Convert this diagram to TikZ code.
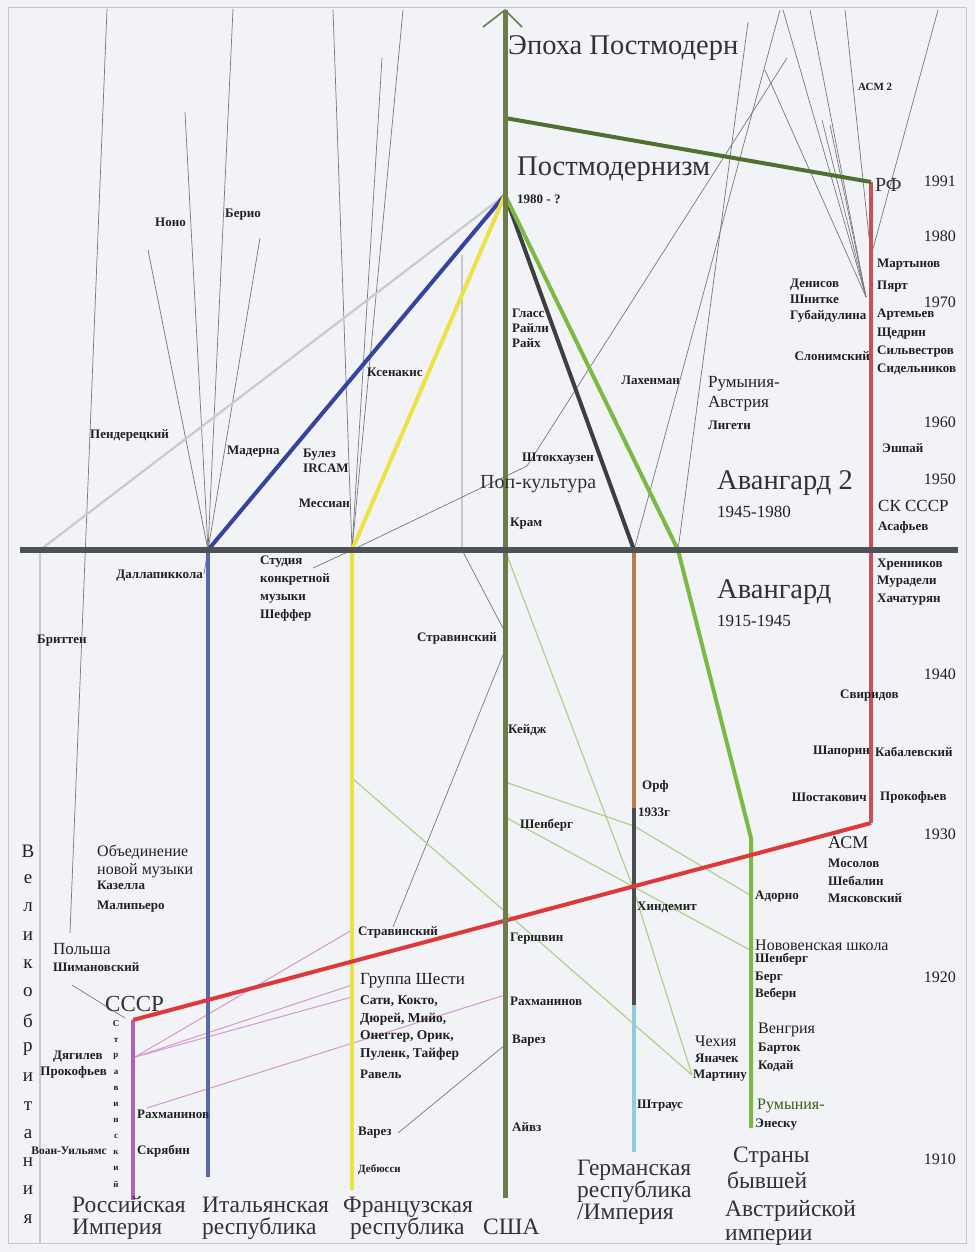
\documentclass[tikz,border=0pt]{standalone}
\usepackage{fontspec}
\setmainfont{Liberation Serif}
\usetikzlibrary{arrows.meta}

\definecolor{paper}{RGB}{242,243,246}
\definecolor{framec}{RGB}{196,198,202}
\definecolor{ink}{RGB}{32,32,34}
\definecolor{inkgray}{RGB}{50,50,52}
\definecolor{axisc}{RGB}{78,82,86}
\definecolor{usac}{RGB}{108,124,74}
\definecolor{pmgreen}{RGB}{80,112,48}
\definecolor{sovred}{RGB}{222,56,58}
\definecolor{rfred}{RGB}{200,80,86}
\definecolor{rusviolet}{RGB}{176,96,182}
\definecolor{violetthin}{RGB}{214,150,206}
\definecolor{itblue}{RGB}{52,68,160}
\definecolor{itblue2}{RGB}{88,102,170}
\definecolor{fryellow}{RGB}{234,226,70}
\definecolor{darkline}{RGB}{60,62,64}
\definecolor{atgreen}{RGB}{124,184,68}
\definecolor{debrown}{RGB}{184,122,80}
\definecolor{degray}{RGB}{74,76,78}
\definecolor{deblue}{RGB}{144,204,224}
\definecolor{gbgray}{RGB}{200,202,204}
\definecolor{thingray}{RGB}{118,120,122}
\definecolor{lightgreen}{RGB}{174,208,138}
\definecolor{romgreen}{RGB}{50,90,30}

\begin{document}
\begin{tikzpicture}[x=1pt,y=-1pt,
  gline/.style={draw=thingray,line width=0.7pt},
  lgline/.style={draw=lightgreen,line width=1.2pt},
  vline/.style={draw=violetthin,line width=1pt},
  heavy/.style={line width=4pt},
  lbl/.style={font=\fontsize{13}{15}\selectfont\bfseries,text=ink,inner sep=0pt,anchor=west,align=left},
  lblR/.style={lbl,anchor=east,align=right},
  midlbl/.style={font=\fontsize{16}{18}\selectfont,text=ink,inner sep=0pt,anchor=west,align=left},
  bigt/.style={font=\fontsize{28.5}{30}\selectfont,text=inkgray,inner sep=0pt,anchor=base west},
  subt/.style={font=\fontsize{17}{19}\selectfont,text=ink,inner sep=0pt,anchor=base west},
  yr/.style={font=\fontsize{16}{18}\selectfont,text=ink,inner sep=0pt,anchor=east},
  ctry/.style={font=\fontsize{23.5}{20}\selectfont,text=inkgray,inner sep=0pt,anchor=base west},
  vletter/.style={font=\fontsize{19}{20}\selectfont,text=ink,inner sep=0pt},
  tletter/.style={font=\fontsize{9}{10}\selectfont\bfseries,text=ink,inner sep=0pt}]

% page and frame
\fill[paper] (0,0) rectangle (975,1252);
\draw[framec,line width=1pt] (8,8) rectangle (966,1243);
\useasboundingbox (0,0) rectangle (975,1252);

% ---- junction points ----
\coordinate (usaTop) at (505,10);
\coordinate (usaBot) at (505,1198);
\coordinate (pmApex) at (505,195);
\coordinate (pmL) at (505,118);
\coordinate (axL) at (20,550);
\coordinate (axR) at (958,550);
\coordinate (itN) at (208,550);
\coordinate (itB) at (208,1177);
\coordinate (frN) at (352,550);
\coordinate (frB) at (352,1190);
\coordinate (deN) at (634,550);
\coordinate (deOrff) at (634,808);
\coordinate (deW) at (634,1005);
\coordinate (deB) at (634,1152);
\coordinate (atN) at (678,550);
\coordinate (atK) at (751,838);
\coordinate (atB) at (751,1128);
\coordinate (gbN) at (40,550);
\coordinate (gbB) at (40,1243);
\coordinate (ruN) at (133,1020);
\coordinate (ruB) at (133,1200);
\coordinate (suK) at (871,823);
\coordinate (rfN) at (871,182);

% thin grey influence lines
\coordinate (gIt1) at (233,9);
\coordinate (gIt2) at (185,112);
\coordinate (gIt3) at (148,250);
\coordinate (gIt4) at (260,238);
\coordinate (dallE) at (204,574);
\coordinate (polT) at (107,9);
\coordinate (polB) at (70,933);
\coordinate (gFr1) at (333,10);
\coordinate (gFr2) at (403,10);
\coordinate (gFr3) at (382,58);
\coordinate (stkP) at (527,466);
\coordinate (stkT) at (787,58);
\coordinate (studE) at (313,568);
\coordinate (strT) at (462,255);
\coordinate (strA) at (462,550);
\coordinate (strUS) at (505,632);
\coordinate (strFr) at (393,927);
\coordinate (strUSb) at (505,650);
\coordinate (varFr) at (398,1133);
\coordinate (varUS) at (505,1045);
\coordinate (lachT) at (780,10);
\coordinate (ligT) at (748,22);
\coordinate (denN) at (866,297);
\coordinate (den1) at (783,10);
\coordinate (den2) at (810,10);
\coordinate (den3) at (765,70);
\coordinate (den4) at (822,120);
\coordinate (den5) at (830,125);
\coordinate (marN) at (871,256);
\coordinate (mar1) at (845,10);
\coordinate (mar2) at (938,10);
\coordinate (polR1) at (72,985);
\coordinate (polR2) at (125,1018);

\draw[gline] (gIt1) -- (itN);
\draw[gline] (gIt2) -- (itN);
\draw[gline] (gIt3) -- (itN);
\draw[gline] (gIt4) -- (itN);
\draw[gline] (dallE) -- (itN);
\draw[gline] (polT) -- (polB);
\draw[gline] (gFr1) -- (frN);
\draw[gline] (gFr2) -- (frN);
\draw[gline] (gFr3) -- (frN);
\draw[gline] (frN) -- (stkP) -- (stkT);
\draw[gline] (studE) -- (frN);
\draw[gline] (strT) -- (strA) -- (strUS);
\draw[gline] (strFr) -- (strUSb);
\draw[gline] (varFr) -- (varUS);
\draw[gline] (lachT) -- (deN);
\draw[gline] (ligT) -- (atN);
\draw[gline] (den1) -- (denN);
\draw[gline] (den2) -- (denN);
\draw[gline] (den3) -- (denN);
\draw[gline] (den4) -- (denN);
\draw[gline] (den5) -- (denN);
\draw[gline] (mar1) -- (marN);
\draw[gline] (mar2) -- (marN);
\draw[gline] (polR1) -- (polR2);

% light green emigration lines
\coordinate (lgA0) at (505,550);
\coordinate (lgA1) at (632,885);
\coordinate (lgA2) at (692,1075);
\coordinate (lgB0) at (505,782);
\coordinate (lgB1) at (634,826);
\coordinate (lgB2) at (750,895);
\coordinate (lgC0) at (505,817);
\coordinate (lgC1) at (750,950);
\coordinate (lgD0) at (352,778);
\draw[lgline] (lgA0) -- (lgA1) -- (lgA2);
\draw[lgline] (lgB0) -- (lgB1) -- (lgB2);
\draw[lgline] (lgC0) -- (lgC1);
\draw[lgline] (lgD0) -- (lgA2);

% violet lines out of the Russian Empire
\coordinate (ruDi) at (135,1057);
\coordinate (ruRa) at (147,1108);
\coordinate (frStr) at (352,930);
\coordinate (frDi1) at (352,985);
\coordinate (frDi2) at (352,997);
\coordinate (usRa) at (505,995);
\draw[vline] (ruDi) -- (frStr);
\draw[vline] (ruDi) -- (frDi1);
\draw[vline] (ruDi) -- (frDi2);
\draw[vline] (ruRa) -- (usRa);

% Great Britain
\draw[gbgray,line width=2.2pt] (gbN) -- (pmApex);
\draw[gbgray,line width=2pt] (gbN) -- (gbB);

% national lines
\draw[itblue,heavy] (itN) -- (pmApex);
\draw[itblue2,heavy] (itN) -- (itB);
\draw[fryellow,heavy] (frN) -- (pmApex);
\draw[fryellow,heavy] (frN) -- (frB);
\draw[darkline,heavy] (deN) -- (pmApex);
\draw[debrown,heavy] (deN) -- (deOrff);
\draw[degray,heavy] (deOrff) -- (deW);
\draw[deblue,heavy] (deW) -- (deB);
\draw[atgreen,heavy,line join=round] (pmApex) -- (atN) -- (atK) -- (atB);
\draw[rusviolet,heavy] (ruN) -- (ruB);
\draw[sovred,heavy] (ruN) -- (suK);
\draw[rfred,heavy] (suK) -- (rfN);
\draw[pmgreen,heavy] (pmL) -- (rfN);

% USA axis with open arrow head
\draw[usac,line width=5pt] (usaBot) -- (usaTop);
\draw[usac,line width=1.6pt] ([shift={(-22,17)}]usaTop) -- (usaTop) -- ([shift={(17,17)}]usaTop);

% 1945 boundary
\draw[axisc,line width=6pt] (axL) -- (axR);

% ---- epochs ----
\node[bigt] (epoch) at (508,55) {Эпоха Постмодерн};
\node[bigt] (pmism) at (517,176) {Постмодернизм};
\node[lbl] (pmyear) at (517,199) {1980 - ?};
\node[font=\fontsize{20}{22}\selectfont,text=inkgray,inner sep=0pt,anchor=base west] (pop) at (480,488) {Поп-культура};
\node[bigt] (av2) at (717,489) {Авангард 2};
\node[subt] (av2y) at (717,517) {1945-1980};
\node[bigt] (av1) at (717,598) {Авангард};
\node[subt] (av1y) at (717,626) {1915-1945};

% ---- years ----
\node[yr] (y1991) at (956,181) {1991};
\node[yr] (y1980) at (956,236) {1980};
\node[yr] (y1970) at (956,302) {1970};
\node[yr] (y1960) at (956,422) {1960};
\node[yr] (y1950) at (956,479) {1950};
\node[yr] (y1940) at (956,674) {1940};
\node[yr] (y1930) at (956,834) {1930};
\node[yr] (y1920) at (956,977) {1920};
\node[yr] (y1910) at (956,1159) {1910};

% ---- upper left ----
\node[lbl] (nono) at (155,222) {Ноно};
\node[lbl] (berio) at (225,215) {Берио};
\node[lbl] (pend) at (90,435) {Пендерецкий};
\node[lbl] (mad) at (227,452) {Мадерна};
\node[lbl] (boulez) at (303,461) {Булез\\IRCAM};
\node[lblR] (mess) at (350,503) {Мессиан};
\node[lbl] (xen) at (367,372) {Ксенакис};
\node[lblR] (dall) at (203,576) {Даллапиккола};
\node[lbl] (britten) at (37,641) {Бриттен};
\node[lbl,font=\fontsize{13}{18}\selectfont\bfseries] (studio) at (260,589) {Студия\\конкретной\\музыки\\Шеффер};

% ---- USA ----
\node[lbl] (glass) at (512,328) {Гласс\\Райли\\Райх};
\node[lbl] (stock) at (522,459) {Штокхаузен};
\node[lbl] (crumb) at (510,524) {Крам};
\node[lblR] (strUSl) at (497,638) {Стравинский};
\node[lbl] (cage) at (508,730) {Кейдж};
\node[lbl] (schUS) at (520,825) {Шенберг};
\node[lbl] (gersh) at (510,939) {Гершвин};
\node[lbl] (rachUS) at (510,1001) {Рахманинов};
\node[lbl] (varUSl) at (512,1041) {Варез};
\node[lbl] (ives) at (512,1127) {Айвз};

% ---- upper right ----
\node[lblR] (lachen) at (680,380) {Лахенман};
\node[midlbl,font=\fontsize{17}{20}\selectfont] (romat) at (708,394) {Румыния-\\Австрия};
\node[lbl] (ligeti) at (708,425) {Лигети};
\node[lbl,font=\fontsize{11}{12}\selectfont\bfseries] (asm2) at (858,87) {АСМ 2};
\node[font=\fontsize{20}{22}\selectfont,text=inkgray,inner sep=0pt,anchor=base west] (rf) at (875,192) {РФ};
\node[lbl] (mart) at (877,265) {Мартынов};
\node[lbl] (part) at (877,287) {Пярт};
\node[lbl,font=\fontsize{13}{18.3}\selectfont\bfseries] (artem) at (877,342) {Артемьев\\Щедрин\\Сильвестров\\Сидельников};
\node[lbl,font=\fontsize{13}{16}\selectfont\bfseries] (denis) at (790,301) {Денисов\\Шнитке\\Губайдулина};
\node[lblR] (slon) at (870,356) {Слонимский};
\node[lbl] (eshpai) at (882,448) {Эшпай};
\node[midlbl,font=\fontsize{17}{19}\selectfont] (skussr) at (878,506) {СК СССР};
\node[lbl] (asaf) at (878,527) {Асафьев};
\node[lbl,font=\fontsize{13}{17.5}\selectfont\bfseries] (khren) at (877,582) {Хренников\\Мурадели\\Хачатурян};
\node[lbl] (svir) at (840,696) {Свиридов};
\node[lblR] (shap) at (870,752) {Шапорин};
\node[lbl] (kabal) at (875,752) {Кабалевский};
\node[lblR] (shost) at (867,797) {Шостакович};
\node[lbl] (prokR) at (880,797) {Прокофьев};
\node[midlbl,font=\fontsize{18}{20}\selectfont] (asm) at (828,843) {АСМ};
\node[lbl,font=\fontsize{13}{17.5}\selectfont\bfseries] (mosol) at (828,881) {Мосолов\\Шебалин\\Мясковский};

% ---- Germany / Austria ----
\node[lbl] (orff) at (642,786) {Орф};
\node[lbl] (y1933) at (638,812) {1933г};
\node[lbl] (hind) at (637,907) {Хиндемит};
\node[lbl] (strauss) at (637,1106) {Штраус};
\node[midlbl] (czech) at (695,1041) {Чехия};
\node[lbl] (janac) at (695,1058) {Яначек};
\node[lbl] (martinu) at (693,1076) {Мартину};
\node[lbl] (adorno) at (755,897) {Адорно};
\node[midlbl] (nvs) at (755,945) {Нововенская школа};
\node[lbl,font=\fontsize{13}{17.5}\selectfont\bfseries] (nvsn) at (755,977) {Шенберг\\Берг\\Веберн};
\node[midlbl] (hung) at (758,1030) {Венгрия};
\node[lbl,font=\fontsize{13}{18}\selectfont\bfseries] (bartok) at (758,1057) {Барток\\Кодай};
\node[midlbl,text=romgreen] (rom) at (757,1106) {Румыния-};
\node[lbl] (enescu) at (755,1125) {Энеску};

% ---- France ----
\node[lbl] (strFrl) at (358,932) {Стравинский};
\node[midlbl,font=\fontsize{17}{19}\selectfont] (six) at (360,981) {Группа Шести};
\node[lbl,font=\fontsize{13.5}{17.7}\selectfont\bfseries] (sixn) at (360,1028) {Сати, Кокто,\\Дюрей, Мийо,\\Онеггер, Орик,\\Пуленк, Тайфер};
\node[lbl] (ravel) at (360,1074) {Равель};
\node[lbl] (varFrl) at (358,1133) {Варез};
\node[lbl,font=\fontsize{11}{12}\selectfont\bfseries] (debussy) at (358,1170) {Дебюсси};

% ---- Italy / Poland / Russia ----
\node[midlbl] (onm) at (97,861) {Объединение\\новой музыки};
\node[lbl,font=\fontsize{13}{20}\selectfont\bfseries] (casella) at (97,897) {Казелла\\Малипьеро};
\node[midlbl,font=\fontsize{17}{19}\selectfont] (poland) at (53,949) {Польша};
\node[lbl] (szym) at (53,967) {Шимановский};
\node[font=\fontsize{23}{25}\selectfont,text=inkgray,inner sep=0pt,anchor=base west] (ussr) at (105,1011) {СССР};
\node[lbl] (diag) at (53,1057) {Дягилев};
\node[lblR] (prokL) at (107,1072) {Прокофьев};
\node[lbl] (rachRu) at (137,1114) {Рахманинов};
\node[lbl] (scriabin) at (137,1151) {Скрябин};
\node[lblR,font=\fontsize{11.5}{13}\selectfont\bfseries] (vaughan) at (107,1151) {Воан-Уильямс};

% vertical names
\foreach \ch [count=\i from 0] in {В,е,л,и,к,о,б,р,и,т,а,н,и,я}
  \node[vletter] (gbl\i) at (28,{851+28.3*\i}) {\ch};
\foreach \ch [count=\i from 0] in {С,т,р,а,в,и,н,с,к,и,й}
  \node[tletter] (stl\i) at (116,{1024+16*\i}) {\ch};

% ---- countries ----
\node[ctry] (ru1) at (72,1212) {Российская};
\node[ctry] (ru2) at (72,1234) {Империя};
\node[ctry] (it1) at (202,1212) {Итальянская};
\node[ctry] (it2) at (202,1234) {республика};
\node[ctry] (fr1) at (343,1212) {Французская};
\node[ctry] (fr2) at (350,1234) {республика};
\node[ctry] (us1) at (483,1234) {США};
\node[ctry] (de1) at (577,1175) {Германская};
\node[ctry] (de2) at (577,1197) {республика};
\node[ctry] (de3) at (577,1219) {/Империя};
\node[ctry] (at1) at (733,1162) {Страны};
\node[ctry] (at2) at (727,1188) {бывшей};
\node[ctry] (at3) at (725,1216) {Австрийской};
\node[ctry] (at4) at (725,1240) {империи};

\end{tikzpicture}
\end{document}
